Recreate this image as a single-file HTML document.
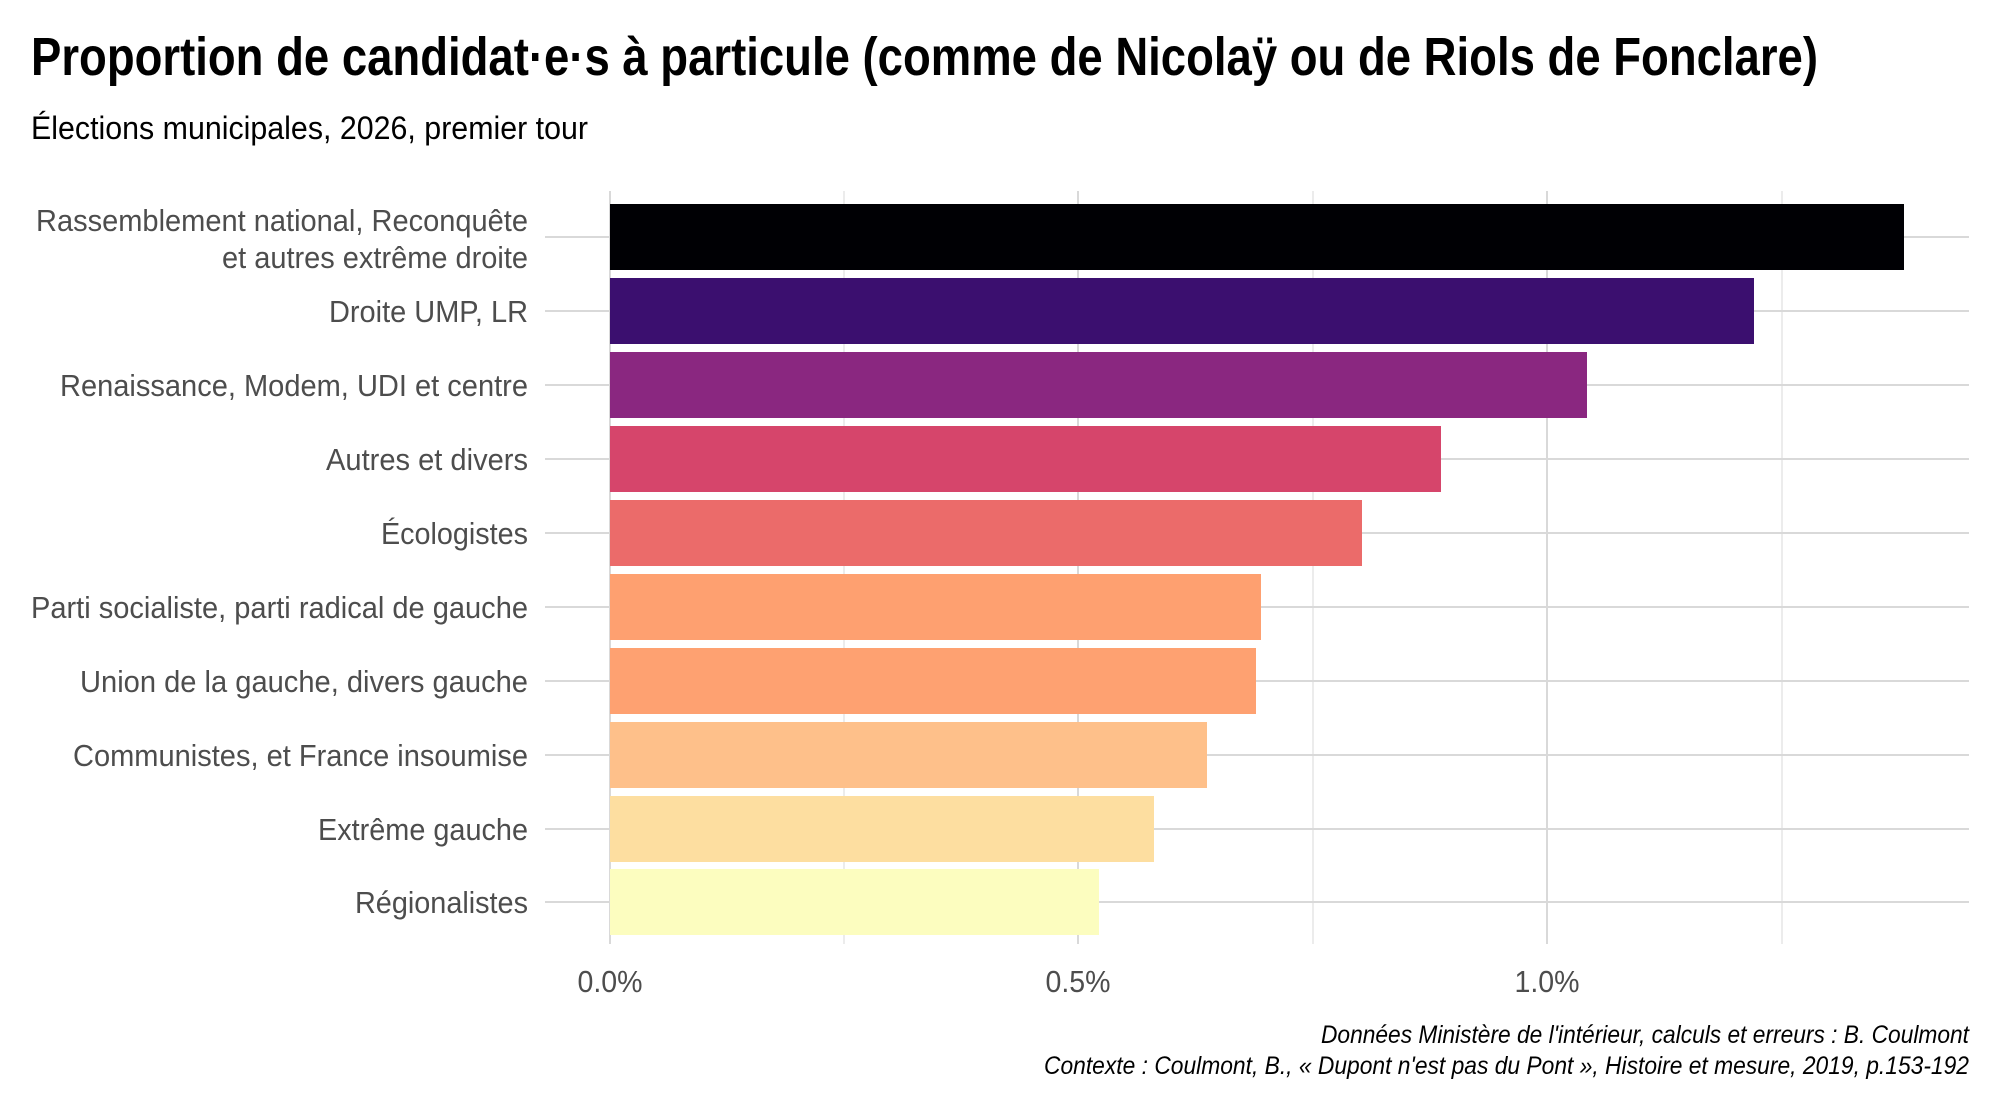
<!DOCTYPE html>
<html><head><meta charset="utf-8"><style>html,body{margin:0;padding:0;background:#fff}svg{display:block}</style></head>
<body>
<svg width="2000" height="1111" viewBox="0 0 2000 1111" xmlns="http://www.w3.org/2000/svg" font-family="'Liberation Sans Narrow','Liberation Sans',sans-serif">
<rect width="2000" height="1111" fill="#fff"/>
<text x="31" y="75" font-size="54" font-weight="bold" fill="#000" textLength="1787" lengthAdjust="spacingAndGlyphs">Proportion de candidat·e·s à particule (comme de Nicolaÿ ou de Riols de Fonclare)</text>
<text x="31" y="139" font-size="32" fill="#000" textLength="557" lengthAdjust="spacingAndGlyphs">Élections municipales, 2026, premier tour</text>
<g stroke="#e6e6e6" stroke-width="1.5">
<line x1="844" y1="191" x2="844" y2="944"/><line x1="1313" y1="191" x2="1313" y2="944"/><line x1="1782" y1="191" x2="1782" y2="944"/>
</g>
<g stroke="#d9d9d9" stroke-width="2">
<line x1="610" y1="191" x2="610" y2="944"/><line x1="1078" y1="191" x2="1078" y2="944"/><line x1="1547" y1="191" x2="1547" y2="944"/>
<line x1="545" y1="237" x2="1969" y2="237"/><line x1="545" y1="311" x2="1969" y2="311"/><line x1="545" y1="385" x2="1969" y2="385"/><line x1="545" y1="459" x2="1969" y2="459"/><line x1="545" y1="533" x2="1969" y2="533"/><line x1="545" y1="607" x2="1969" y2="607"/><line x1="545" y1="681" x2="1969" y2="681"/><line x1="545" y1="755" x2="1969" y2="755"/><line x1="545" y1="829" x2="1969" y2="829"/><line x1="545" y1="902" x2="1969" y2="902"/>
</g>
<rect x="610" y="204" width="1294" height="66" fill="#000004"/>
<rect x="610" y="278" width="1144" height="66" fill="#3b0f6f"/>
<rect x="610" y="352" width="977" height="66" fill="#8a2780"/>
<rect x="610" y="426" width="831" height="66" fill="#d6456b"/>
<rect x="610" y="500" width="752" height="66" fill="#eb6b6a"/>
<rect x="610" y="574" width="651" height="66" fill="#fea070"/>
<rect x="610" y="648" width="646" height="66" fill="#fea171"/>
<rect x="610" y="722" width="597" height="66" fill="#fec08a"/>
<rect x="610" y="796" width="544" height="66" fill="#fddea0"/>
<rect x="610" y="869" width="489" height="66" fill="#fcfdbf"/>
<g font-size="31" fill="#4d4d4d" text-anchor="end">
<text x="528" y="231" textLength="492" lengthAdjust="spacingAndGlyphs">Rassemblement national, Reconquête</text>
<text x="528" y="268" textLength="306" lengthAdjust="spacingAndGlyphs">et autres extrême droite</text>
<text x="528" y="322" textLength="199" lengthAdjust="spacingAndGlyphs">Droite UMP, LR</text>
<text x="528" y="396" textLength="468" lengthAdjust="spacingAndGlyphs">Renaissance, Modem, UDI et centre</text>
<text x="528" y="470" textLength="202" lengthAdjust="spacingAndGlyphs">Autres et divers</text>
<text x="528" y="544" textLength="147" lengthAdjust="spacingAndGlyphs">Écologistes</text>
<text x="528" y="618" textLength="497" lengthAdjust="spacingAndGlyphs">Parti socialiste, parti radical de gauche</text>
<text x="528" y="692" textLength="448" lengthAdjust="spacingAndGlyphs">Union de la gauche, divers gauche</text>
<text x="528" y="766" textLength="455" lengthAdjust="spacingAndGlyphs">Communistes, et France insoumise</text>
<text x="528" y="840" textLength="210" lengthAdjust="spacingAndGlyphs">Extrême gauche</text>
<text x="528" y="913" textLength="173" lengthAdjust="spacingAndGlyphs">Régionalistes</text>
</g>
<g font-size="31" fill="#4d4d4d" text-anchor="middle">
<text x="610" y="992" textLength="65" lengthAdjust="spacingAndGlyphs">0.0%</text>
<text x="1078" y="992" textLength="65" lengthAdjust="spacingAndGlyphs">0.5%</text>
<text x="1547" y="992" textLength="65" lengthAdjust="spacingAndGlyphs">1.0%</text>
</g>
<g font-size="25" font-style="italic" fill="#000" text-anchor="end">
<text x="1969" y="1043" textLength="648" lengthAdjust="spacingAndGlyphs">Données Ministère de l'intérieur, calculs et erreurs : B. Coulmont</text>
<text x="1969" y="1074" textLength="925" lengthAdjust="spacingAndGlyphs">Contexte : Coulmont, B., « Dupont n'est pas du Pont », Histoire et mesure, 2019, p.153-192</text>
</g>
</svg>
</body></html>
